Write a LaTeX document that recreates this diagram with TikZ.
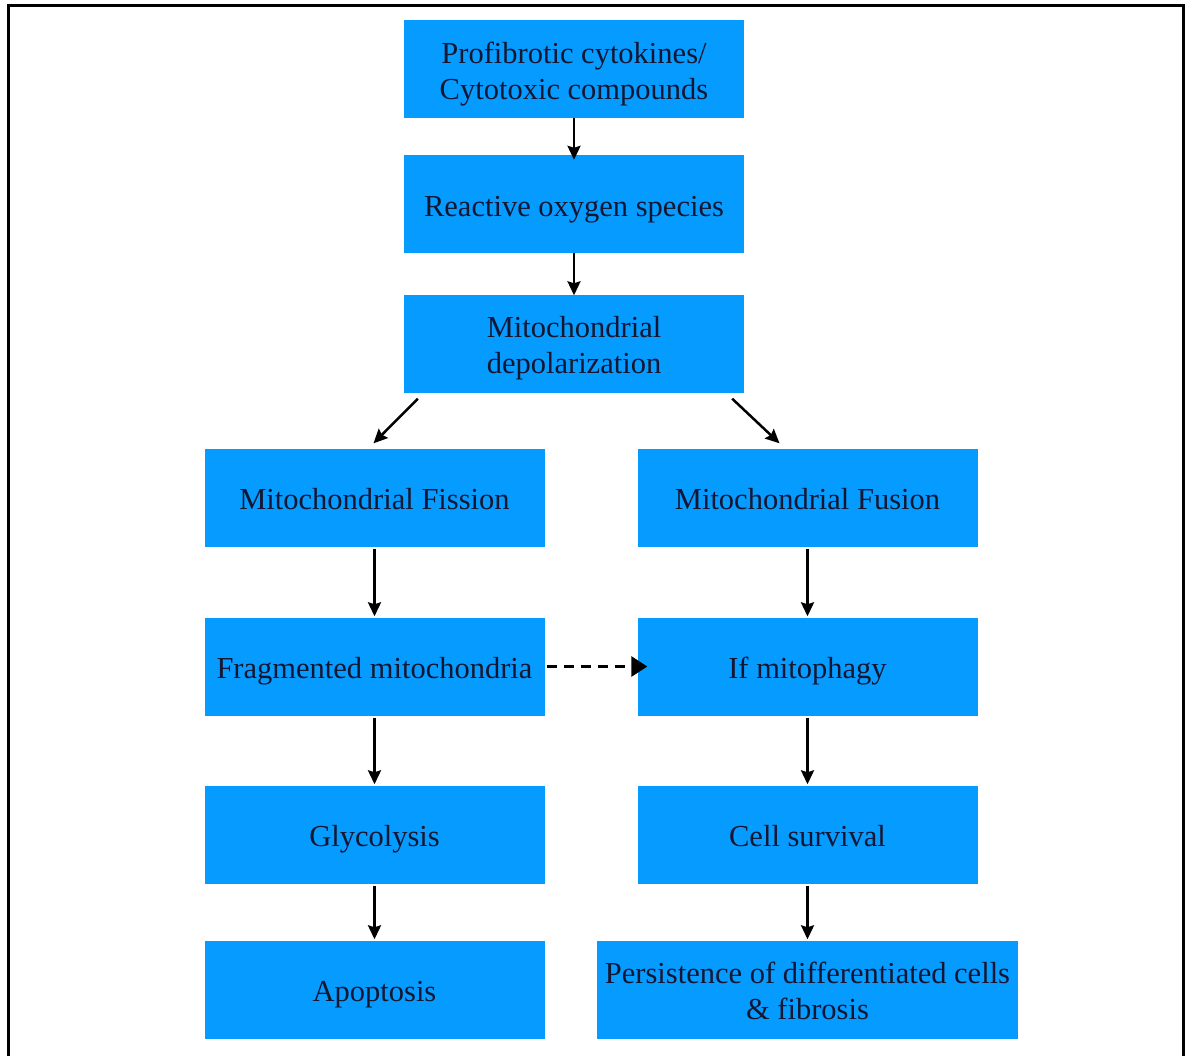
\documentclass[tikz,border=0pt]{standalone}
\usepackage{fontspec}
\setmainfont{Liberation Serif}
\usetikzlibrary{arrows.meta,calc}
\definecolor{boxblue}{RGB}{5,155,255}
\definecolor{txt}{RGB}{20,22,50}
\newcommand{\boxtext}[1]{\raisebox{-5pt}[\height][\depth]{\begin{tabular}{@{}c@{}}#1\end{tabular}}}
\tikzset{
  bx/.style={fill=boxblue, draw=none, minimum width=340pt, minimum height=98pt, inner sep=0pt,
    text=txt, font=\fontsize{30.5}{36}\selectfont},
  arr/.style={line width=2.5pt, -{Stealth[length=14pt,width=13pt,inset=2pt]}},
  darr/.style={line width=3pt, dash pattern=on 10pt off 7pt, -{Triangle[length=16pt,width=20pt]}}
}
\begin{document}
\begin{tikzpicture}[x=1pt,y=-1pt]
\useasboundingbox (0,0) rectangle (1185,1055);
\begin{scope}
\clip (0,0) rectangle (1185,1055);
\draw[line width=3pt] (8,5) rectangle (1183,1070);
\end{scope}
\node[bx] (b1) at (574,69) {\boxtext{Profibrotic cytokines/\\Cytotoxic compounds}};
\node[bx] (b2) at (574,204) {\boxtext{Reactive oxygen species}};
\node[bx] (b3) at (574,343.5) {\boxtext{Mitochondrial\\depolarization}};
\node[bx] (fis) at (374.5,497.5) {\boxtext{Mitochondrial Fission}};
\node[bx] (fus) at (807.5,497.5) {\boxtext{Mitochondrial Fusion}};
\node[bx] (frag) at (374.5,666.5) {\boxtext{Fragmented mitochondria}};
\node[bx] (mito) at (807.5,666.5) {\boxtext{If mitophagy}};
\node[bx] (gly) at (374.5,834.5) {\boxtext{Glycolysis}};
\node[bx] (surv) at (807.5,834.5) {\boxtext{Cell survival}};
\node[bx] (apo) at (374.5,989.5) {\boxtext{Apoptosis}};
\node[bx, minimum width=421pt] (pers) at (807.5,989.5) {\boxtext{Persistence of differentiated cells\\\& fibrosis}};

\draw[arr] (b1.south) -- ([yshift=-5pt]b2.north);
\draw[arr] (b2.south) -- ([yshift=-1pt]b3.north);
\draw[arr] ($(b3.south west)+(14,6)$) -- ($(fis.north)+(-1,-5)$);
\draw[arr] ($(b3.south east)+(-12,6)$) -- ($(fus.north)+(-28,-5)$);
\draw[arr] ([yshift=-2pt]fis.south) -- ([yshift=1pt]frag.north);
\draw[arr] ([yshift=-2pt]fus.south) -- ([yshift=1pt]mito.north);
\draw[arr] ([yshift=-2pt]frag.south) -- ([yshift=1pt]gly.north);
\draw[arr] ([yshift=-2pt]mito.south) -- ([yshift=1pt]surv.north);
\draw[arr] ([yshift=-2pt]gly.south) -- ([yshift=1pt]apo.north);
\draw[arr] ([yshift=-2pt]surv.south) -- ([yshift=1pt]pers.north);
\draw[darr] ([xshift=2pt]frag.east) -- ([xshift=10pt]mito.west);
\end{tikzpicture}
\end{document}
